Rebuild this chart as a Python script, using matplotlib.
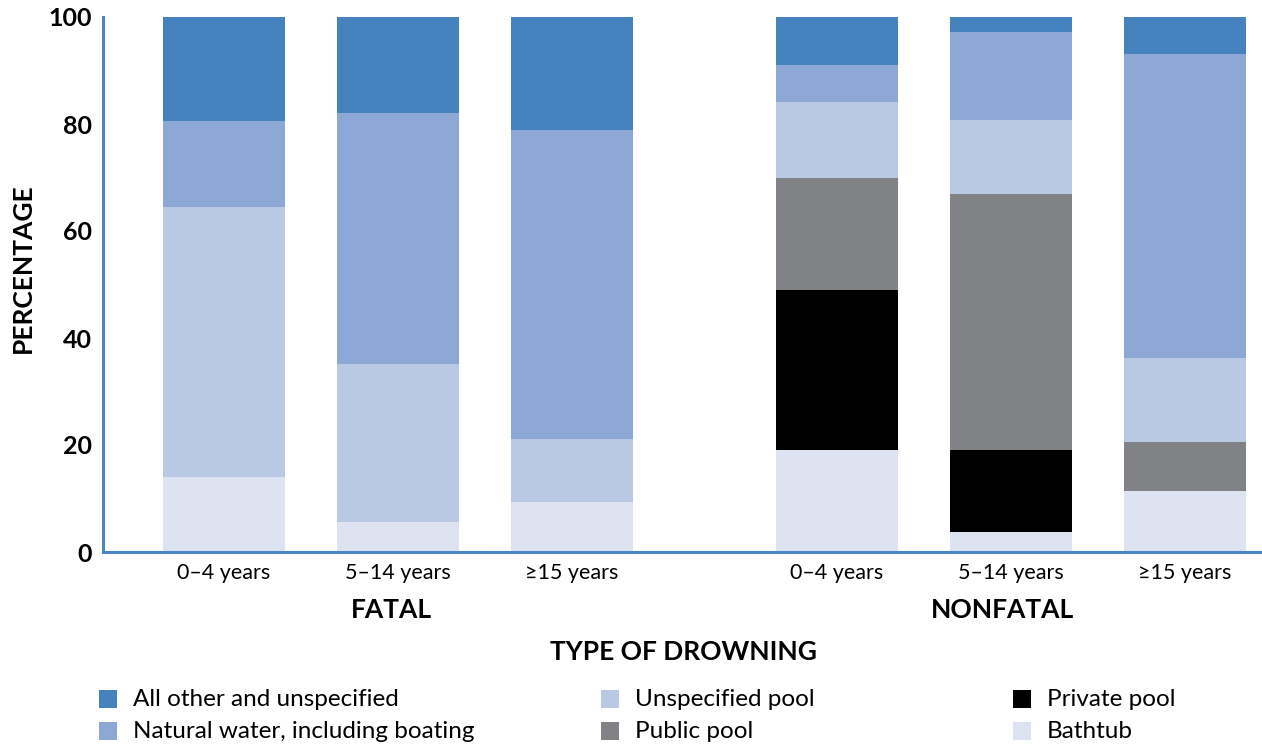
import numpy as np
import matplotlib.pyplot as plt
from matplotlib.patches import Rectangle

plt.rcParams['font.family'] = ['Lato', 'DejaVu Sans']

ages = ['0–4 years', '5–14 years', '≥15 years', '0–4 years', '5–14 years', '≥15 years']
groups = ['FATAL', 'NONFATAL']

# percentages, bottom to top
bathtub     = [14.0, 5.6, 9.4, 19.1, 3.7, 11.4]
private     = [0.0, 0.0, 0.0, 29.8, 15.4, 0.0]
public      = [0.0, 0.0, 0.0, 21.0, 47.8, 9.2]
unspec_pool = [50.4, 29.6, 11.8, 14.2, 13.8, 15.7]
natural     = [16.1, 46.8, 57.6, 6.9, 16.5, 56.8]
other       = [19.5, 18.0, 21.2, 9.0, 2.8, 6.9]

series = [
    ('Bathtub', bathtub, '#dee3f1'),
    ('Private pool', private, '#000000'),
    ('Public pool', public, '#818286'),
    ('Unspecified pool', unspec_pool, '#b9c9e3'),
    ('Natural water, including boating', natural, '#8da8d4'),
    ('All other and unspecified', other, '#4682be'),
]

x = np.array([0, 1, 2, 3.523, 4.523, 5.523])

fig = plt.figure(figsize=(12.62, 7.44), dpi=100)
ax = fig.add_axes([103 / 1262, 192 / 744, 1159 / 1262, 535 / 744])

bottom = np.zeros(len(x))
for name, vals, col in series:
    v = np.array(vals)
    ax.bar(x, v, 0.70, bottom=bottom, color=col, linewidth=0)
    bottom += v

ax.set_xlim(-0.695, 5.966)
ax.set_ylim(0, 100)
ax.set_yticks([0, 20, 40, 60, 80, 100])
ax.set_yticklabels(['0', '20', '40', '60', '80', '100'], fontsize=18, fontweight='bold')
ax.set_xticks(x)
ax.set_xticklabels(ages, fontsize=15.5)
ax.tick_params(axis='both', length=0)
ax.tick_params(axis='x', pad=8)
ax.tick_params(axis='y', pad=8)
for s in ['top', 'right']:
    ax.spines[s].set_visible(False)
for s in ['left', 'bottom']:
    ax.spines[s].set_color('#4a86c5')
    ax.spines[s].set_linewidth(2.2)

ax.set_ylabel('PERCENTAGE', fontsize=19, fontweight='bold')
ax.yaxis.set_label_coords(-68 / 1159, (552 - 268) / 535)

fig.text(391 / 1262, 1 - 610 / 744, 'FATAL', fontsize=19, fontweight='bold', ha='center', va='center')
fig.text(1003 / 1262, 1 - 610 / 744, 'NONFATAL', fontsize=19, fontweight='bold', ha='center', va='center')
fig.text(683 / 1262, 1 - 652 / 744, 'TYPE OF DROWNING', fontsize=19, fontweight='bold', ha='center', va='center')

# legend, laid out as in the original
legend_order = [
    ('All other and unspecified', '#4682be', 99, 699),
    ('Natural water, including boating', '#8da8d4', 99, 731),
    ('Unspecified pool', '#b9c9e3', 601, 699),
    ('Public pool', '#818286', 601, 731),
    ('Private pool', '#000000', 1013, 699),
    ('Bathtub', '#dee3f1', 1013, 731),
]
for name, col, px, py in legend_order:
    fig.patches.append(Rectangle((px / 1262, (744 - py - 9) / 744), 18 / 1262, 18 / 744,
                                 transform=fig.transFigure, color=col, linewidth=0))
    fig.text((px + 34) / 1262, 1 - py / 744, name, fontsize=17.5, ha='left', va='center')

fig.savefig('out.png', dpi=100)
